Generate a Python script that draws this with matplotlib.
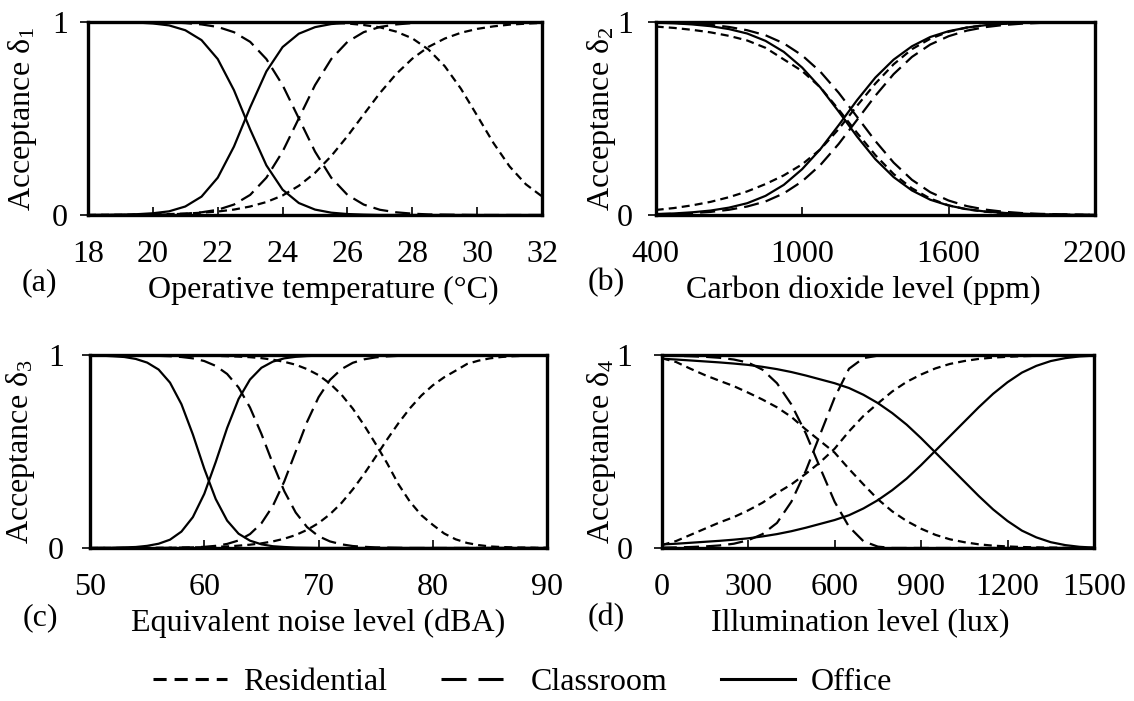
import matplotlib
matplotlib.use("Agg")
import matplotlib.pyplot as plt
from matplotlib.lines import Line2D

plt.rcParams['font.family'] = ['Liberation Serif', 'DejaVu Serif']
plt.rcParams['mathtext.fontset'] = 'custom'
plt.rcParams['mathtext.rm'] = 'Liberation Serif'
plt.rcParams['mathtext.it'] = 'Liberation Serif'

# ---- (a) operative temperature ----
temp_x = [18, 18.5, 19, 19.5, 20, 20.5, 21, 21.5, 22, 22.5, 23, 23.5, 24, 24.5, 25,
          25.5, 26, 26.5, 27, 27.5, 28, 28.5, 29, 29.5, 30, 30.5, 31, 31.5, 32]
temp_res_up = [0.000, 0.001, 0.001, 0.002, 0.003, 0.005, 0.007, 0.012, 0.018, 0.028, 0.044,
               0.067, 0.101, 0.151, 0.218, 0.305, 0.408, 0.520, 0.631, 0.729, 0.809, 0.870,
               0.913, 0.943, 0.963, 0.976, 0.985, 0.990, 0.994]
temp_res_down = [1.000, 1.000, 1.000, 1.000, 1.000, 1.000, 1.000, 1.000, 1.000, 1.000, 1.000,
                 1.000, 0.999, 0.998, 0.997, 0.995, 0.991, 0.983, 0.971, 0.949, 0.914, 0.856,
                 0.770, 0.653, 0.514, 0.373, 0.251, 0.159, 0.096]
temp_cls_up = [0.000, 0.000, 0.000, 0.001, 0.002, 0.003, 0.007, 0.014, 0.027, 0.054, 0.104,
               0.193, 0.328, 0.500, 0.672, 0.807, 0.896, 0.946, 0.973, 0.986, 0.993, 0.997,
               0.998, 0.999, 1.000, 1.000, 1.000, 1.000, 1.000]
temp_cls_down = [1.000, 1.000, 1.000, 0.999, 0.998, 0.997, 0.993, 0.986, 0.973, 0.946, 0.896,
                 0.807, 0.672, 0.500, 0.328, 0.193, 0.104, 0.054, 0.027, 0.014, 0.007, 0.003,
                 0.002, 0.001, 0.000, 0.000, 0.000, 0.000, 0.000]
temp_off_up = [0.000, 0.001, 0.002, 0.004, 0.009, 0.019, 0.044, 0.095, 0.193, 0.354, 0.557,
               0.743, 0.869, 0.938, 0.972, 0.988, 0.995, 0.998, 1.000, 1.000, 1.000, 1.000,
               1.000, 1.000, 1.000, 1.000, 1.000, 1.000, 1.000]
temp_off_down = [1.000, 0.999, 0.998, 0.996, 0.991, 0.981, 0.956, 0.905, 0.807, 0.646, 0.443,
                 0.257, 0.131, 0.062, 0.028, 0.012, 0.005, 0.002, 0.000, 0.000, 0.000, 0.000,
                 0.000, 0.000, 0.000, 0.000, 0.000, 0.000, 0.000]

# ---- (b) carbon dioxide ----
co2_x = [400, 475, 550, 625, 700, 775, 850, 925, 1000, 1075, 1150, 1225, 1300, 1375, 1450,
         1525, 1600, 1675, 1750, 1825, 1900, 1975, 2050, 2125, 2200]
co2_res_up = [0.026, 0.036, 0.050, 0.068, 0.092, 0.122, 0.160, 0.205, 0.262, 0.340, 0.445,
              0.565, 0.680, 0.780, 0.858, 0.912, 0.948, 0.970, 0.982, 0.990, 0.994, 0.996,
              0.998, 0.999, 0.999]
co2_res_down = [0.975, 0.968, 0.958, 0.945, 0.927, 0.903, 0.865, 0.805, 0.745, 0.660, 0.545,
                0.425, 0.310, 0.212, 0.138, 0.085, 0.050, 0.029, 0.017, 0.010, 0.006, 0.004,
                0.002, 0.001, 0.001]
co2_cls_up = [0.004, 0.006, 0.010, 0.016, 0.027, 0.044, 0.070, 0.112, 0.174, 0.259, 0.368,
              0.492, 0.617, 0.729, 0.818, 0.882, 0.925, 0.954, 0.972, 0.983, 0.990, 0.994,
              0.996, 0.998, 0.999]
co2_cls_down = [0.996, 0.994, 0.990, 0.984, 0.973, 0.956, 0.930, 0.888, 0.826, 0.741, 0.632,
                0.508, 0.383, 0.271, 0.182, 0.118, 0.075, 0.046, 0.028, 0.017, 0.010, 0.006,
                0.004, 0.002, 0.001]
co2_off_up = [0.005, 0.008, 0.014, 0.023, 0.038, 0.061, 0.099, 0.156, 0.237, 0.341, 0.465,
              0.594, 0.711, 0.804, 0.873, 0.921, 0.951, 0.970, 0.982, 0.989, 0.994, 0.996,
              0.998, 0.999, 1.000]
co2_off_down = [0.995, 0.992, 0.986, 0.977, 0.962, 0.939, 0.901, 0.844, 0.763, 0.659, 0.535,
                0.406, 0.289, 0.196, 0.127, 0.079, 0.049, 0.030, 0.018, 0.011, 0.006, 0.004,
                0.002, 0.001, 0.000]

# ---- (c) noise ----
noise_x = [50, 51, 52, 53, 54, 55, 56, 57, 58, 59, 60, 61, 62, 63, 64, 65, 66, 67, 68, 69, 70,
           71, 72, 73, 74, 75, 76, 77, 78, 79, 80, 81, 82, 83, 84, 85, 86, 87, 88, 89, 90]
noise_res_up = [0.000, 0.000, 0.000, 0.000, 0.000, 0.001, 0.001, 0.001, 0.002, 0.003, 0.004,
                0.006, 0.008, 0.012, 0.017, 0.024, 0.034, 0.048, 0.067, 0.094, 0.129, 0.175,
                0.233, 0.304, 0.385, 0.473, 0.563, 0.648, 0.725, 0.791, 0.844, 0.886, 0.920,
                0.955, 0.972, 0.984, 0.991, 0.995, 0.997, 0.998, 0.999]
noise_res_down = [1.000, 1.000, 1.000, 1.000, 1.000, 0.999, 0.999, 0.999, 0.999, 0.998, 0.998,
                  0.997, 0.995, 0.993, 0.990, 0.985, 0.977, 0.966, 0.951, 0.928, 0.897, 0.853,
                  0.796, 0.723, 0.636, 0.540, 0.440, 0.330, 0.240, 0.170, 0.120, 0.075, 0.045,
                  0.026, 0.015, 0.008, 0.005, 0.003, 0.002, 0.001, 0.001]
noise_cls_up = [0.000, 0.000, 0.000, 0.000, 0.000, 0.000, 0.000, 0.001, 0.002, 0.003, 0.006,
                0.011, 0.021, 0.039, 0.072, 0.128, 0.218, 0.345, 0.500, 0.655, 0.782, 0.872,
                0.928, 0.961, 0.979, 0.989, 0.994, 0.997, 0.998, 0.999, 1.000, 1.000, 1.000,
                1.000, 1.000, 1.000, 1.000, 1.000, 1.000, 1.000, 1.000]
noise_cls_down = [1.000, 1.000, 1.000, 1.000, 0.999, 0.999, 0.997, 0.995, 0.991, 0.984, 0.970,
                  0.945, 0.903, 0.833, 0.729, 0.592, 0.438, 0.295, 0.184, 0.108, 0.061, 0.034,
                  0.019, 0.010, 0.006, 0.003, 0.002, 0.001, 0.000, 0.000, 0.000, 0.000, 0.000,
                  0.000, 0.000, 0.000, 0.000, 0.000, 0.000, 0.000, 0.000]
noise_off_up = [0.000, 0.001, 0.001, 0.003, 0.005, 0.011, 0.022, 0.043, 0.085, 0.160, 0.281,
                0.446, 0.623, 0.773, 0.874, 0.935, 0.967, 0.984, 0.992, 0.996, 0.998, 0.999,
                1.000, 1.000, 1.000, 1.000, 1.000, 1.000, 1.000, 1.000, 1.000, 1.000, 1.000,
                1.000, 1.000, 1.000, 1.000, 1.000, 1.000, 1.000, 1.000]
noise_off_down = [0.999, 0.998, 0.995, 0.991, 0.981, 0.962, 0.926, 0.858, 0.746, 0.589, 0.411,
                  0.254, 0.142, 0.074, 0.038, 0.019, 0.009, 0.005, 0.002, 0.001, 0.000, 0.000,
                  0.000, 0.000, 0.000, 0.000, 0.000, 0.000, 0.000, 0.000, 0.000, 0.000, 0.000,
                  0.000, 0.000, 0.000, 0.000, 0.000, 0.000, 0.000, 0.000]

# ---- (d) illumination ----
lux_x = [0, 50, 100, 150, 200, 250, 300, 350, 400, 450, 500, 550, 600, 650, 700, 750, 800,
         850, 900, 950, 1000, 1050, 1100, 1150, 1200, 1250, 1300, 1350, 1400, 1450, 1500]
lux_res_up = [0.015, 0.036, 0.068, 0.100, 0.132, 0.160, 0.195, 0.235, 0.285, 0.330, 0.385,
              0.445, 0.515, 0.605, 0.685, 0.750, 0.812, 0.862, 0.900, 0.932, 0.955, 0.970,
              0.981, 0.988, 0.992, 0.995, 0.997, 0.998, 0.999, 0.999, 1.000]
lux_res_down = [0.985, 0.965, 0.930, 0.897, 0.868, 0.840, 0.806, 0.770, 0.730, 0.680, 0.615,
                0.555, 0.495, 0.410, 0.330, 0.253, 0.190, 0.140, 0.100, 0.068, 0.045, 0.030,
                0.019, 0.012, 0.008, 0.005, 0.003, 0.002, 0.001, 0.001, 0.000]
lux_cls_up = [0.002, 0.003, 0.005, 0.008, 0.013, 0.022, 0.040, 0.072, 0.130, 0.240, 0.400,
              0.590, 0.780, 0.930, 0.985, 0.998, 1.000, 1.000, 1.000, 1.000, 1.000, 1.000,
              1.000, 1.000, 1.000, 1.000, 1.000, 1.000, 1.000, 1.000, 1.000]
lux_cls_down = [0.998, 0.997, 0.995, 0.992, 0.987, 0.978, 0.962, 0.925, 0.855, 0.745, 0.595,
                0.415, 0.240, 0.110, 0.035, 0.007, 0.000, 0.000, 0.000, 0.000, 0.000, 0.000,
                0.000, 0.000, 0.000, 0.000, 0.000, 0.000, 0.000, 0.000, 0.000]
lux_off_up = [0.018, 0.022, 0.027, 0.032, 0.037, 0.043, 0.050, 0.060, 0.072, 0.087, 0.105,
              0.125, 0.145, 0.170, 0.205, 0.248, 0.300, 0.360, 0.430, 0.505, 0.580, 0.655,
              0.730, 0.800, 0.860, 0.910, 0.945, 0.970, 0.985, 0.994, 0.998]
lux_off_down = [0.982, 0.978, 0.973, 0.968, 0.963, 0.957, 0.950, 0.940, 0.928, 0.913, 0.895,
                0.875, 0.855, 0.830, 0.795, 0.752, 0.700, 0.640, 0.570, 0.495, 0.420, 0.345,
                0.270, 0.200, 0.140, 0.090, 0.055, 0.030, 0.015, 0.006, 0.002]

FS = 23
RES_DASH = (3.6, 2.3)
CLS_DASH = (6.8, 3.2)
LW = 1.6


def draw_panel(ax, x, res, cls, off, xlim, xticks, xlabel, ylabel, tag, xlab_x, ypad):
    # residential = short dash, classroom = long dash, office = solid
    for series in res:
        ax.plot(x, series, color='black', lw=LW, dashes=RES_DASH)
    for series in cls:
        ax.plot(x, series, color='black', lw=LW, dashes=CLS_DASH)
    for series in off:
        ax.plot(x, series, color='black', lw=LW)

    ax.set_xlim(*xlim)
    ax.set_ylim(0, 1)
    ax.set_xticks(xticks)
    ax.set_xticklabels([str(t) for t in xticks])
    ax.set_yticks([0, 1])
    ax.set_yticklabels(['0', '1'])
    ax.tick_params(axis='x', direction='in', length=6, width=1.2, labelsize=FS, pad=18)
    ax.tick_params(axis='y', direction='out', length=6, width=1.2, labelsize=FS, pad=ypad)
    for s in ax.spines.values():
        s.set_linewidth(2.4)

    ax.set_ylabel(ylabel, fontsize=FS)
    ax.text(xlab_x, -0.39, xlabel, transform=ax.transAxes, fontsize=FS,
            ha='center', va='center')
    ax.text(tag[0], tag[1], tag[2], transform=ax.transAxes, fontsize=FS,
            ha='center', va='center')


fig = plt.figure(figsize=(11.34, 7.01), dpi=100)

ax_a = fig.add_axes([0.0776, 0.6933, 0.4004, 0.2757])
ax_b = fig.add_axes([0.5782, 0.6933, 0.3874, 0.2757])
ax_c = fig.add_axes([0.0794, 0.2183, 0.4030, 0.2749])
ax_d = fig.add_axes([0.5835, 0.2183, 0.3812, 0.2749])

draw_panel(ax_a, temp_x, [temp_res_up, temp_res_down], [temp_cls_up, temp_cls_down],
           [temp_off_up, temp_off_down], (18, 32), [18, 20, 22, 24, 26, 28, 30, 32],
           'Operative temperature (°C)', r'Acceptance δ$_1$', (-0.106, -0.35, '(a)'), 0.518, 8.5)
draw_panel(ax_b, co2_x, [co2_res_up, co2_res_down], [co2_cls_up, co2_cls_down],
           [co2_off_up, co2_off_down], (400, 2200), [400, 1000, 1600, 2200],
           'Carbon dioxide level (ppm)', r'Acceptance δ$_2$', (-0.113, -0.35, '(b)'), 0.472, 10.5)
draw_panel(ax_c, noise_x, [noise_res_up, noise_res_down], [noise_cls_up, noise_cls_down],
           [noise_off_up, noise_off_down], (50, 90), [50, 60, 70, 80, 90],
           'Equivalent noise level (dBA)', r'Acceptance δ$_3$', (-0.109, -0.36, '(c)'), 0.5, 13)
draw_panel(ax_d, lux_x, [lux_res_up, lux_res_down], [lux_cls_up, lux_cls_down],
           [lux_off_up, lux_off_down], (0, 1500), [0, 300, 600, 900, 1200, 1500],
           'Illumination level (lux)', r'Acceptance δ$_4$', (-0.129, -0.36, '(d)'), 0.46, 15)

# label anchor is the right-hand edge of the rotated text
ax_a.yaxis.set_label_coords(-0.107, 0.5)
ax_b.yaxis.set_label_coords(-0.086, 0.5)
ax_c.yaxis.set_label_coords(-0.115, 0.5)
ax_d.yaxis.set_label_coords(-0.100, 0.5)

# legend
handles = [Line2D([], [], color='black', lw=2.2, dashes=(4.3, 2.6)),
           Line2D([], [], color='black', lw=2.2, dashes=(8.2, 3.9)),
           Line2D([], [], color='black', lw=2.2)]
fig.legend(handles, ['Residential', 'Classroom', 'Office'], loc='center',
           bbox_to_anchor=(0.461, 0.026), ncol=3, frameon=False, fontsize=FS,
           handlelength=2.3, columnspacing=1.7, handletextpad=0.5)

fig.savefig('out.png', dpi=100)
